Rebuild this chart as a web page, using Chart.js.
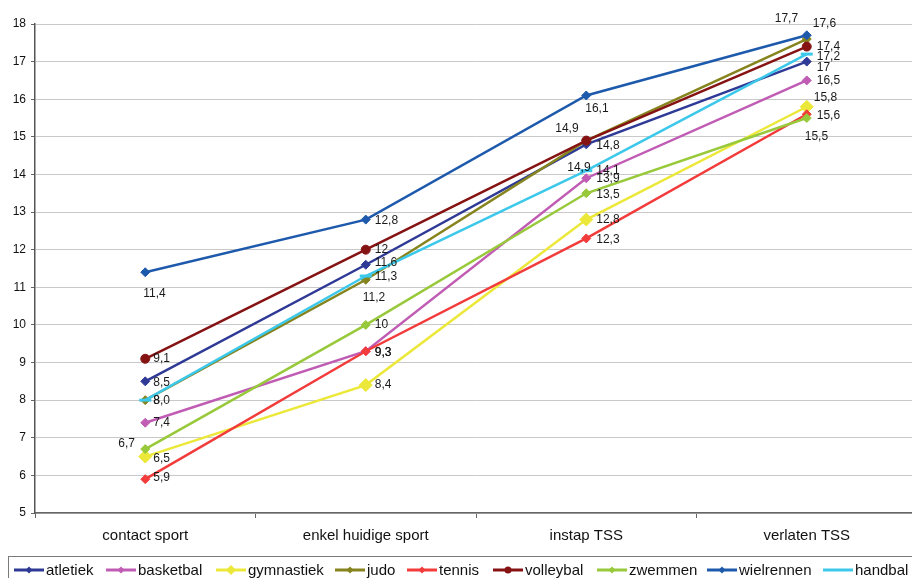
<!DOCTYPE html>
<html>
<head>
<meta charset="utf-8">
<script src="https://cdn.jsdelivr.net/npm/chart.js@4/dist/chart.umd.min.js"></script>
<style>
  html, body { margin: 0; padding: 0; background: #fff; overflow: hidden; }
  #wrap { width: 926px; height: 578px; }
</style>
</head>
<body>
<div id="wrap"><canvas id="c" width="926" height="578"></canvas></div>
<script>
// Categories and series values
const categories = ['contact sport', 'enkel huidige sport', 'instap TSS', 'verlaten TSS'];
const atletiek   = [8.5, 11.6, 14.8, 17];
const basketbal  = [7.4, 9.3, 13.9, 16.5];
const gymnastiek = [6.5, 8.4, 12.8, 15.8];
const judo       = [8, 11.2, 14.9, 17.6];
const tennis     = [5.9, 9.3, 12.3, 15.6];
const volleybal  = [9.1, 12, 14.9, 17.4];
const zwemmen    = [6.7, 10, 13.5, 15.5];
const wielrennen = [11.4, 12.8, 16.1, 17.7];
const handbal    = [8.0, 11.3, 14.1, 17.2];
const yMin = 5, yMax = 18, yStep = 1;

// Series styling
const series = [
  { name: 'atletiek',   data: atletiek,   color: '#2F3A96', style: 'rectRot', r: 4.5 },
  { name: 'basketbal',  data: basketbal,  color: '#C05CB4', style: 'rectRot', r: 4.5 },
  { name: 'gymnastiek', data: gymnastiek, color: '#ECE83A', style: 'rectRot', r: 6.5 },
  { name: 'judo',       data: judo,       color: '#86841E', style: 'rectRot', r: 4.5 },
  { name: 'tennis',     data: tennis,     color: '#F23B3B', style: 'rectRot', r: 4.5 },
  { name: 'volleybal',  data: volleybal,  color: '#861313', style: 'circle',  r: 4.5 },
  { name: 'zwemmen',    data: zwemmen,    color: '#98C93A', style: 'rectRot', r: 4.5 },
  { name: 'wielrennen', data: wielrennen, color: '#1E5AAC', style: 'rectRot', r: 4.5 },
  { name: 'handbal',    data: handbal,    color: '#3CC8EA', style: 'line',    r: 6, fixed: true }
];

// Value label placement per series: [dx, dy] from the point, text left-aligned
const labelOffsets = {
  atletiek:   [[8, 1],   [9, -2],  [10, 1],   [10, 6]],
  basketbal:  [[8, 0],   [9, 1],   [10, 0],   [10, 0]],
  gymnastiek: [[8, 2],   [9, 0],   [10, 0],   [7, -9]],
  judo:       [[8, 1],   [-3, 18], [-19, 27], [6, -15]],
  tennis:     [[8, -1],  [9, 1],   [10, 1],   [10, 1]],
  volleybal:  [[8, 0],   [9, 0],   [-31, -12],[10, 0]],
  zwemmen:    [[-27, -5],[9, 0],   [10, 1],   [-2, 19]],
  wielrennen: [[-2, 21], [9, 1],   [-1, 13],  [-32, -17]],
  handbal:    [[8, 1],   [9, 1],   [10, 0],   [10, 3]]
};

// Legend entry start positions along the bottom box
const legendX = [14, 106, 216, 335, 407, 493, 597, 707, 823];

const FONT = '"Liberation Sans", Arial, sans-serif';

function fmt(v, fixed) {
  const s = fixed ? v.toFixed(1) : String(v);
  return s.replace('.', ',');
}

const valueLabels = {
  id: 'valueLabels',
  afterDatasetsDraw(chart) {
    const ctx = chart.ctx;
    ctx.save();
    ctx.font = '12px ' + FONT;
    ctx.fillStyle = '#1a1a1a';
    ctx.textAlign = 'left';
    ctx.textBaseline = 'middle';
    chart.data.datasets.forEach((ds, i) => {
      const meta = chart.getDatasetMeta(i);
      const offs = labelOffsets[ds.label];
      meta.data.forEach((pt, j) => {
        const o = offs[j];
        ctx.fillText(fmt(ds.data[j], series[i].fixed), pt.x + o[0], pt.y + o[1]);
      });
    });
    ctx.restore();
  }
};

function drawMarker(ctx, style, x, y, r, color) {
  ctx.save();
  ctx.fillStyle = color;
  ctx.beginPath();
  if (style === 'circle') {
    ctx.arc(x, y, r, 0, Math.PI * 2);
    ctx.fill();
  } else if (style === 'rectRot') {
    ctx.moveTo(x, y - r); ctx.lineTo(x + r, y); ctx.lineTo(x, y + r); ctx.lineTo(x - r, y);
    ctx.closePath();
    ctx.fill();
  }
  ctx.restore();
}

const boxLegend = {
  id: 'boxLegend',
  afterDraw(chart) {
    const ctx = chart.ctx;
    ctx.save();
    ctx.strokeStyle = '#7a7a7a';
    ctx.lineWidth = 1;
    ctx.strokeRect(8.5, 556.5, 940, 40);
    const cy = 570;
    ctx.font = '15px ' + FONT;
    ctx.textBaseline = 'middle';
    ctx.textAlign = 'left';
    series.forEach((s, i) => {
      const x = legendX[i];
      ctx.strokeStyle = s.color;
      ctx.lineWidth = 3;
      ctx.beginPath();
      ctx.moveTo(x, cy); ctx.lineTo(x + 30, cy);
      ctx.stroke();
      const mr = s.style === 'rectRot' && s.r > 5 ? 5 : 3.5;
      drawMarker(ctx, s.style, x + 15, cy, mr, s.color);
      ctx.fillStyle = '#111';
      ctx.fillText(s.name, x + 32, cy + 1);
    });
    ctx.restore();
  }
};

new Chart(document.getElementById('c'), {
  type: 'line',
  data: {
    labels: categories,
    datasets: series.map((s, i) => ({
      label: s.name,
      data: s.data,
      borderColor: s.color,
      backgroundColor: s.color,
      borderWidth: 2.5,
      pointStyle: s.style,
      pointRadius: s.r,
      pointBorderWidth: s.style === 'line' ? 3 : 1,
      pointBackgroundColor: s.color,
      pointBorderColor: s.color,
      tension: 0,
      fill: false,
      order: series.length - i
    }))
  },
  options: {
    responsive: false,
    animation: false,
    layout: { padding: { top: 24, left: 0, right: 0, bottom: 0 } },
    plugins: {
      legend: { display: false },
      tooltip: { enabled: false }
    },
    scales: {
      x: {
        type: 'category',
        offset: true,
        grid: {
          offset: true,
          drawOnChartArea: false,
          drawTicks: true,
          tickLength: 5,
          color: '#666'
        },
        border: { display: true, color: '#666', width: 1.5 },
        ticks: {
          font: { family: FONT, size: 15 },
          color: '#111',
          padding: 9,
          maxRotation: 0
        },
        afterFit(scale) { scale.height = 65; }
      },
      y: {
        min: yMin,
        max: yMax,
        ticks: {
          stepSize: yStep,
          font: { family: FONT, size: 12 },
          color: '#111',
          padding: 5
        },
        grid: {
          color: '#c9c9c9',
          lineWidth: 1,
          drawTicks: true,
          tickLength: 4,
          tickColor: '#666'
        },
        border: { display: true, color: '#555', width: 1.5 },
        afterFit(scale) { scale.width = 35; }
      }
    }
  },
  plugins: [valueLabels, boxLegend]
});
</script>
</body>
</html>
